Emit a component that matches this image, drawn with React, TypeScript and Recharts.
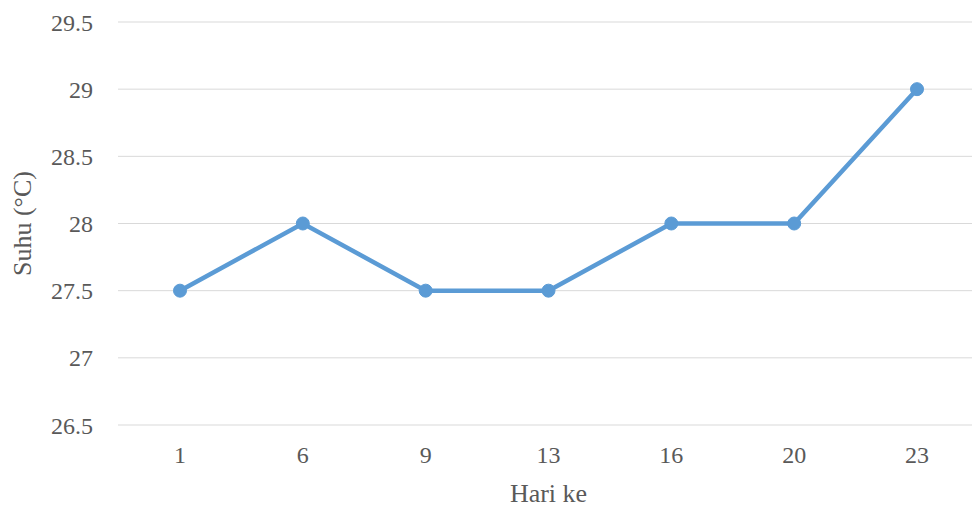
import { LineChart, Line, XAxis, YAxis, CartesianGrid } from "recharts";

const hari = ["1", "6", "9", "13", "16", "20", "23"];
const suhu = [27.5, 28, 27.5, 27.5, 28, 28, 29];
const yTicks = [26.5, 27, 27.5, 28, 28.5, 29, 29.5];

const data = hari.map((h, i) => ({ hari: h, suhu: suhu[i] }));

const FONT = "'Liberation Serif', serif";
const GREY = "#595959";

const YLabel = (props: any) => {
  const vb = props.viewBox;
  const cx = 22;
  const cy = vb.y + vb.height / 2;
  return (
    <text
      x={cx}
      y={cy}
      transform={`rotate(-90, ${cx}, ${cy})`}
      textAnchor="middle"
      dominantBaseline="central"
      fill={GREY}
      fontFamily={FONT}
      fontSize={26}
    >
      Suhu (°C)
    </text>
  );
};

export default function App() {
  return (
    <div
      style={{
        position: "absolute",
        left: 0,
        top: 0,
        width: 972,
        height: 507,
        overflow: "hidden",
        background: "#fff",
      }}
    >
      <LineChart
        width={985}
        height={507}
        data={data}
        margin={{ top: 22, right: 6, left: 0, bottom: 5 }}
      >
        <CartesianGrid vertical={false} stroke="#D9D9D9" strokeWidth={1} />
        <XAxis
          dataKey="hari"
          axisLine={false}
          tickLine={false}
          height={77}
          tickMargin={15}
          padding={{ left: 62, right: 62 }}
          tick={{ fill: GREY, fontFamily: FONT, fontSize: 24 }}
          label={{
            value: "Hari ke",
            position: "insideBottom",
            offset: 0,
            fill: GREY,
            fontFamily: FONT,
            fontSize: 26,
          }}
        />
        <YAxis
          domain={[26.5, 29.5]}
          ticks={yTicks}
          width={118}
          axisLine={false}
          tickLine={false}
          tickMargin={19}
          interval={0}
          tick={{ fill: GREY, fontFamily: FONT, fontSize: 24 }}
          label={<YLabel />}
        />
        <Line
          type="linear"
          dataKey="suhu"
          stroke="#5B9BD5"
          strokeWidth={4.5}
          dot={{ r: 6.5, fill: "#5B9BD5", stroke: "#5B9BD5", strokeWidth: 1 }}
          isAnimationActive={false}
        />
      </LineChart>
    </div>
  );
}
